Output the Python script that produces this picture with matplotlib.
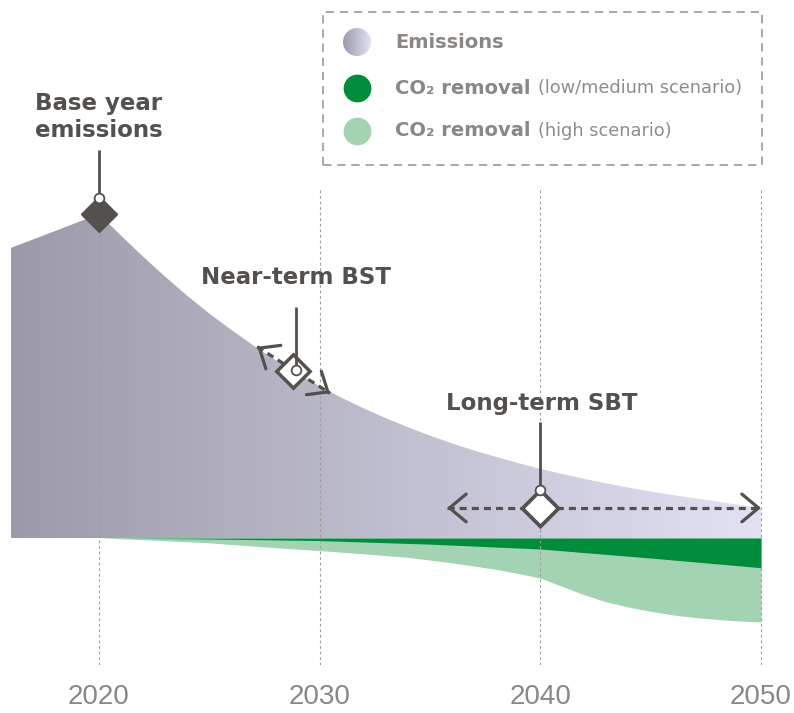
import numpy as np
import matplotlib
matplotlib.use('Agg')
import matplotlib.pyplot as plt
from matplotlib.patches import Rectangle, Circle
from matplotlib.lines import Line2D
from matplotlib.colors import LinearSegmentedColormap

# ---------------- data ----------------
em_years = [2016, 2018, 2020, 2021, 2022, 2023, 2024, 2025, 2026, 2027, 2028, 2029, 2030,
            2031, 2032, 2033, 2034, 2035, 2036, 2037, 2038, 2039, 2040, 2041, 2042, 2043,
            2044, 2045, 2046, 2047, 2048, 2049, 2050]
emissions = [89.8, 95.0, 100.3, 93.6, 87.1, 80.9, 75.0, 69.5, 64.4, 59.6, 55.1, 50.9, 47.0,
             43.4, 40.1, 37.1, 34.3, 31.7, 29.3, 27.1, 25.1, 23.2, 21.4, 19.8, 18.3, 16.9,
             15.6, 14.4, 13.3, 12.3, 11.3, 10.3, 9.3]

low_years = [2020, 2025, 2030, 2035, 2040, 2045, 2050]
removal_low = [0, -0.3, -0.8, -1.9, -3.4, -6.2, -9.2]

high_years = [2020, 2022, 2025, 2028, 2030, 2032, 2034, 2036, 2038, 2039, 2040, 2041, 2042,
              2043, 2044, 2045, 2046, 2047, 2048, 2049, 2050]
removal_high = [0, -0.5, -1.5, -3.0, -3.9, -4.9, -6.0, -7.7, -9.7, -11.0, -12.4, -15.0, -17.6,
                -19.8, -21.4, -22.7, -23.8, -24.6, -25.2, -25.7, -26.0]

tick_years = [2020, 2030, 2040, 2050]
tick_labels = ['2020', '2030', '2040', '2050']

base_year = 2020
near_term = (2028.8, 51.8)
near_arrow = ((2027.17, 59.2), (2030.47, 44.8))
long_term_year = 2040
long_arrow_x = (2035.77, 2050)

legend_labels = ['Emissions', 'CO\u2082 removal', 'CO\u2082 removal']
legend_notes = ['', '(low/medium scenario)', '(high scenario)']

# ---------------- style ----------------
DARK = '#53504e'
GREY = '#8a8785'
GREEN_DARK = '#008c3a'
GREEN_LIGHT = '#a3d3b3'
EM_LEFT = '#9c9aa8'
EM_RIGHT = '#e2e2f4'
FONT = ['DejaVu Sans']

plt.rcParams['font.family'] = FONT

W, H = 794, 713
fig = plt.figure(figsize=(W / 100, H / 100), dpi=100)
ax = fig.add_axes([0, 48 / H, 1, 665 / H])

# removal areas
ax.fill_between(high_years, 0, removal_high, color=GREEN_LIGHT, lw=0, zorder=1)
ax.fill_between(low_years, 0, removal_low, color=GREEN_DARK, lw=0, zorder=2)

# emissions area with gradient
poly = ax.fill_between(em_years, 0, emissions, facecolor='none', edgecolor='none', zorder=1)
cmap = LinearSegmentedColormap.from_list('em', [EM_LEFT, EM_RIGHT])
grad = np.linspace(0, 1, 256).reshape(1, -1)
im = ax.imshow(grad, extent=[em_years[0], em_years[-1], 0, max(emissions)],
               aspect='auto', cmap=cmap, origin='lower', zorder=1, interpolation='bicubic')
im.set_clip_path(poly.get_paths()[0], ax.transData)

ax.set_xlim(2015.514, 2051.495)
ax.set_ylim(-39.32, 166.56)

# dotted vertical guides
ax.vlines([base_year], -39.3, emissions[em_years.index(base_year)], colors='#9e9e9e',
          linestyles=(0, (2.5, 2.5)), lw=0.8, zorder=3)
ax.vlines(tick_years[1:], -39.3, 107.7, colors='#9e9e9e',
          linestyles=(0, (2.5, 2.5)), lw=0.8, zorder=3)

for s in ax.spines.values():
    s.set_visible(False)
ax.set_yticks([])
ax.set_xticks(tick_years)
ax.set_xticklabels(tick_labels, fontsize=20, color=GREY,
                   family=['Liberation Sans Narrow', 'Liberation Sans', 'DejaVu Sans'])
ax.tick_params(axis='x', length=0, pad=14)


def arrow_head(tip, frm, lw=2.3):
    tx, ty = tip
    fx, fy = frm
    back = (tx + (fx - tx) * 0.02, ty + (fy - ty) * 0.02)
    ax.annotate('', xy=tip, xytext=back,
                arrowprops=dict(arrowstyle='->,head_length=0.6,head_width=0.5',
                                mutation_scale=20, lw=lw, color=DARK,
                                shrinkA=0, shrinkB=0), zorder=6)


ANN = dict(fontsize=16.5, fontweight='bold', color=DARK, ha='center', va='center')

# base year marker
by_val = emissions[em_years.index(base_year)]
ax.plot([base_year, base_year], [106.5, 120.1], color=DARK, lw=2, zorder=5, solid_capstyle='butt')
ax.plot(base_year, by_val, marker=(4, 0, 0), ms=26, mfc=DARK, mec=DARK, zorder=6)
ax.plot(base_year, 105.3, marker='o', ms=7, mfc='white', mec=DARK, mew=1.3, zorder=7)
ax.text(base_year, 130.3, 'Base year\nemissions', linespacing=1.25, **ANN)

# near-term marker
(x0, y0), (x1, y1) = near_arrow
ax.plot([x0, x1], [y0, y1], color=DARK, lw=2.3, dashes=(2.2, 1.6), zorder=5)
arrow_head((x0, y0), (x1, y1))
arrow_head((x1, y1), (x0, y0))
ax.plot(*near_term, marker=(4, 0, 0), ms=24, mfc='white', mec=DARK, mew=2.5, zorder=6)
ax.plot([near_term[0] + 0.15] * 2, [53.3, 71.5], color=DARK, lw=2, zorder=7, solid_capstyle='butt')
ax.plot(near_term[0] + 0.15, 52.0, marker='o', ms=7, mfc='white', mec=DARK, mew=1.3, zorder=8)
ax.text(2028.93, 80.5, 'Near-term BST', **ANN)

# long-term marker
lt_level = emissions[-1]
lx0, lx1 = long_arrow_x
ax.plot([lx0, lx1], [lt_level, lt_level], color=DARK, lw=2.3, dashes=(2.2, 1.6), zorder=5)
arrow_head((lx0, lt_level), (lx1, lt_level))
arrow_head((lx1, lt_level), (lx0, lt_level))
ax.plot(long_term_year, lt_level, marker=(4, 0, 0), ms=26, mfc='white', mec=DARK, mew=2.7, zorder=6)
ax.plot([long_term_year, long_term_year], [15.6, 35.9], color=DARK, lw=2, zorder=7, solid_capstyle='butt')
ax.plot(long_term_year, 14.9, marker='o', ms=7, mfc='white', mec=DARK, mew=1.3, zorder=8)
ax.text(2040.08, 41.5, 'Long-term SBT', **ANN)

# ---------------- legend ----------------
fig.add_artist(Rectangle((323 / W, 1 - 165 / H), 439 / W, 153 / H, transform=fig.transFigure,
                         fill=False, ec='#9a9a9a', lw=1.2, ls=(0, (5, 3.5))))

leg_y = [42, 88, 131]
# emissions circle with gradient
cax = fig.add_axes([(357 - 14) / W, 1 - (leg_y[0] + 14) / H, 28 / W, 28 / H])
cax.set_axis_off()
cim = cax.imshow(grad, extent=[0, 1, 0, 1], aspect='auto', cmap=cmap, interpolation='bicubic')
cim.set_clip_path(Circle((0.5, 0.5), 0.5, transform=cax.transAxes))
for yy, col in zip(leg_y[1:], [GREEN_DARK, GREEN_LIGHT]):
    fig.add_artist(Line2D([357 / W], [1 - yy / H], marker='o', ms=20, mfc=col, mec='none',
                          transform=fig.transFigure))

for yy, lab, note in zip(leg_y, legend_labels, legend_notes):
    t = fig.text(395 / W, 1 - yy / H, lab, ha='left', va='center', fontsize=14,
                 fontweight='bold', color=GREY)
    if note:
        ax.annotate(note, xy=(1, 0), xycoords=t, xytext=(5.5, 0.2), textcoords='offset points',
                    ha='left', va='bottom', fontsize=12.8, color='#8f8c8a', annotation_clip=False)

fig.savefig('out.png', dpi=100)
